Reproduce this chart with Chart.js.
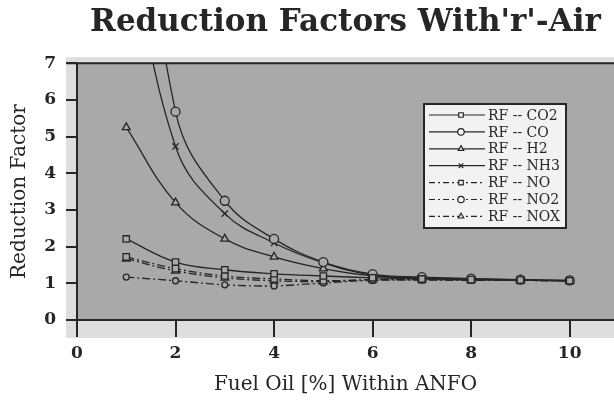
<!DOCTYPE html>
<html>
<head>
<meta charset="utf-8">
<script src="https://cdn.jsdelivr.net/npm/chart.js@4.4.0/dist/chart.umd.min.js"></script>
<style>
  html, body { margin: 0; padding: 0; background: #fff; overflow: hidden; }
  #wrap { width: 614px; height: 401px; }
</style>
</head>
<body>
<div id="wrap"><canvas id="rfChart" width="614" height="401"></canvas></div>
<script>
// fuel oil content [%] within ANFO
const fuelOil = [1, 2, 3, 4, 5, 6, 7, 8, 9, 10];

// reduction factors
const rfCO2 = [2.21, 1.58, 1.37, 1.26, 1.2, 1.15, 1.12, 1.1, 1.09, 1.07];
const rfCO  = [16, 5.68, 3.25, 2.21, 1.58, 1.25, 1.17, 1.13, 1.1, 1.08];
const rfH2  = [5.25, 3.2, 2.21, 1.72, 1.4, 1.2, 1.14, 1.11, 1.09, 1.07];
const rfNH3 = [11, 4.73, 2.9, 2.1, 1.56, 1.22, 1.15, 1.12, 1.09, 1.07];
const rfNO  = [1.72, 1.4, 1.2, 1.12, 1.07, 1.1, 1.1, 1.09, 1.08, 1.07];
const rfNO2 = [1.17, 1.07, 0.96, 0.93, 1.01, 1.08, 1.09, 1.08, 1.08, 1.07];
const rfNOX = [1.67, 1.34, 1.15, 1.07, 1.05, 1.1, 1.1, 1.09, 1.08, 1.07];

const seriesNames = ['RF -- CO2', 'RF -- CO', 'RF -- H2', 'RF -- NH3', 'RF -- NO', 'RF -- NO2', 'RF -- NOX'];

const INK = '#262626';
const PLOT_BG = '#a9a9a9';
const SERIF = '"DejaVu Serif", "Liberation Serif", serif';
const dashDot = [8, 3, 2, 3];

function toPoints(values) {
    return values.map((v, i) => ({ x: fuelOil[i], y: v }));
}

function makeSet(label, values, marker, radius, dashed) {
    return {
        label: label,
        data: toPoints(values),
        borderColor: INK,
        borderWidth: 1.3,
        borderDash: dashed ? dashDot : [],
        pointStyle: marker,
        pointRadius: radius,
        pointBorderWidth: 1.3,
        pointBorderColor: INK,
        pointBackgroundColor: PLOT_BG,
        tension: 0.4,
        fill: false
    };
}

// grey plot panel, lighter margin band and the top frame line
const panel = {
    id: 'panel',
    beforeDraw(chart) {
        const { ctx, chartArea: a } = chart;
        ctx.save();
        ctx.fillStyle = '#dedede';
        ctx.fillRect(a.left - 11, a.top - 6, a.right - a.left + 11, a.bottom - a.top + 24);
        ctx.fillStyle = PLOT_BG;
        ctx.fillRect(a.left, a.top, a.right - a.left, a.bottom - a.top);
        ctx.restore();
    },
    afterDraw(chart) {
        const { ctx, chartArea: a } = chart;
        ctx.save();
        ctx.strokeStyle = INK;
        ctx.lineWidth = 2;
        ctx.beginPath();
        ctx.moveTo(a.left - 11, a.top);
        ctx.lineTo(a.right, a.top);
        ctx.stroke();
        ctx.restore();
    }
};

// boxed legend sitting inside the plot, right of centre
const boxLegend = {
    id: 'boxLegend',
    afterDatasetsDraw(chart) {
        const { ctx } = chart;
        const x0 = 424, y0 = 104, w = 142, h = 124;
        const rowH = 16.9;
        ctx.save();
        ctx.fillStyle = '#f2f2f2';
        ctx.fillRect(x0, y0, w, h);
        ctx.strokeStyle = INK;
        ctx.lineWidth = 2;
        ctx.strokeRect(x0, y0, w, h);
        ctx.font = '14px ' + SERIF;
        ctx.textBaseline = 'middle';
        chart.data.datasets.forEach((ds, i) => {
            const y = y0 + 11 + i * rowH;
            ctx.strokeStyle = INK;
            ctx.lineWidth = 1.2;
            ctx.setLineDash(ds.borderDash.length ? [6, 3, 2, 3] : []);
            ctx.beginPath();
            ctx.moveTo(x0 + 5, y);
            ctx.lineTo(x0 + 61, y);
            ctx.stroke();
            ctx.setLineDash([]);
            ctx.fillStyle = '#f2f2f2';
            Chart.helpers.drawPoint(ctx, {
                pointStyle: ds.pointStyle,
                radius: 3.2,
                borderWidth: 1.2,
                rotation: 0
            }, x0 + 37, y);
            ctx.fillStyle = INK;
            ctx.fillText(ds.label, x0 + 64, y + 1);
        });
        ctx.restore();
    }
};

new Chart(document.getElementById('rfChart'), {
    type: 'line',
    data: {
        datasets: [
            makeSet(seriesNames[0], rfCO2, 'rect', 4.5, false),
            makeSet(seriesNames[1], rfCO, 'circle', 4.5, false),
            makeSet(seriesNames[2], rfH2, 'triangle', 4.5, false),
            makeSet(seriesNames[3], rfNH3, 'crossRot', 4.5, false),
            makeSet(seriesNames[4], rfNO, 'rect', 4.5, true),
            makeSet(seriesNames[5], rfNO2, 'circle', 3, true),
            makeSet(seriesNames[6], rfNOX, 'triangle', 4.5, true)
        ]
    },
    options: {
        responsive: false,
        animation: false,
        devicePixelRatio: 1,
        layout: { autoPadding: false, padding: { left: 0, right: 0, top: 0, bottom: 0 } },
        plugins: {
            legend: { display: false },
            tooltip: { enabled: false },
            title: {
                display: true,
                fullSize: false,
                text: "Reduction Factors With'r'-Air",
                color: INK,
                font: { family: SERIF, size: 31, weight: 'bold' },
                padding: { top: 4, bottom: 22 }
            }
        },
        scales: {
            x: {
                type: 'linear',
                min: 0,
                max: 10.9,
                afterFit(scale) { scale.height = 81; },
                ticks: {
                    stepSize: 2,
                    includeBounds: false,
                    color: INK,
                    padding: 6,
                    font: { family: SERIF, size: 17, weight: 'bold' }
                },
                grid: { drawOnChartArea: false, color: INK, lineWidth: 2, tickLength: 17 },
                border: { color: INK, width: 2 },
                title: {
                    display: true,
                    text: 'Fuel Oil [%] Within ANFO',
                    color: INK,
                    font: { family: SERIF, size: 20, weight: 'normal' },
                    padding: { top: 2 }
                }
            },
            y: {
                min: 0,
                max: 7,
                afterFit(scale) { scale.width = 77; },
                ticks: {
                    stepSize: 1,
                    color: INK,
                    padding: 10,
                    font: { family: SERIF, size: 17, weight: 'bold' }
                },
                grid: { drawOnChartArea: false, color: INK, lineWidth: 2, tickLength: 11 },
                border: { color: INK, width: 2 },
                title: {
                    display: true,
                    text: 'Reduction Factor',
                    color: INK,
                    font: { family: SERIF, size: 20, weight: 'normal' },
                    padding: { top: 8, bottom: 0 }
                }
            }
        }
    },
    plugins: [panel, boxLegend]
});
</script>
</body>
</html>
